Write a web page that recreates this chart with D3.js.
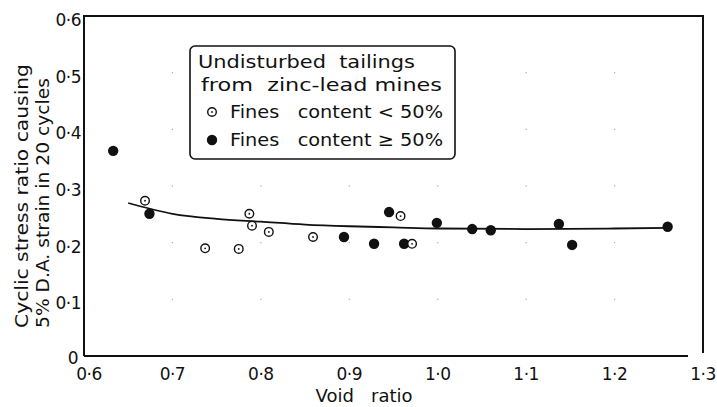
<!DOCTYPE html>
<html>
<head>
<meta charset="utf-8">
<script src="https://cdn.jsdelivr.net/npm/d3@7"></script>
<style>
  body { margin: 0; background: #fff; }
  svg text { font-family: "DejaVu Sans", sans-serif; fill: #111; }
</style>
</head>
<body>
<svg id="plot" width="717" height="407"></svg>
<script>
// void ratio / cyclic stress ratio
const openPts = [
    [0.669, 0.274], [0.737, 0.190], [0.775, 0.189], [0.787, 0.251],
    [0.790, 0.230], [0.809, 0.219], [0.859, 0.210], [0.958, 0.247],
    [0.971, 0.198]
]
const filledPts = [
    [0.633, 0.362], [0.674, 0.251], [0.894, 0.210], [0.928, 0.198],
    [0.945, 0.254], [0.962, 0.198], [0.999, 0.235], [1.039, 0.224],
    [1.060, 0.222], [1.137, 0.233], [1.152, 0.196], [1.260, 0.228]
]
const trend = [
    [0.650, 0.270], [0.700, 0.251], [0.750, 0.242], [0.800, 0.237],
    [0.850, 0.232], [0.900, 0.229], [0.950, 0.227], [1.000, 0.225],
    [1.100, 0.224], [1.200, 0.225], [1.260, 0.226]
]
const xTicks = [0.6, 0.7, 0.8, 0.9, 1.0, 1.1, 1.2, 1.3]
const yTicks = [0, 0.1, 0.2, 0.3, 0.4, 0.5, 0.6]
const legendLines = ['Undisturbed  tailings', 'from  zinc-lead mines']
const legendItems = [
    { open: true, label: 'Fines   content < 50%' },
    { open: false, label: 'Fines   content \u2265 50%' }
]

const plotLeft = 84
    , plotRight = 703
    , plotTop = 16
    , plotBottom = 356
    , svg = d3.select('#plot')
    , x = d3.scaleLinear().domain([0.6, 1.3]).range([plotLeft, plotRight])
    , y = d3.scaleLinear().domain([0, 0.6]).range([plotBottom, plotTop])
    , fmt = v => v === 0 ? '0' : d3.format('.1f')(v).replace('.', '\u00b7')

// frame
svg.append('path')
    .attr('d', `M${plotLeft},${plotBottom}V${plotTop}H${plotRight}V${plotBottom - 3}`)
    .attr('fill', 'none').attr('stroke', '#111').attr('stroke-width', 2)
svg.append('line')
    .attr('x1', plotLeft).attr('x2', plotRight - 15)
    .attr('y1', plotBottom).attr('y2', plotBottom)
    .attr('stroke', '#111').attr('stroke-width', 2)

// faint dots at tick crossings
const crossings = xTicks.slice(1, -1).flatMap(a => yTicks.slice(1, -1).map(b => [a, b]))
svg.selectAll('rect.dot')
    .data(crossings)
    .join('rect')
    .attr('class', 'dot')
    .attr('x', d => x(d[0]) - 0.6).attr('y', d => y(d[1]) - 0.6)
    .attr('width', 1.2).attr('height', 1.2)
    .attr('fill', '#aaa')

// tick labels
svg.selectAll('text.xt')
    .data(xTicks)
    .join('text')
    .attr('class', 'xt')
    .attr('x', d => x(d) + (d === 0.6 ? 5 : 0))
    .attr('y', 380)
    .attr('text-anchor', 'middle')
    .attr('font-size', 17)
    .attr('letter-spacing', -0.5)
    .text(fmt)
svg.selectAll('text.yt')
    .data(yTicks)
    .join('text')
    .attr('class', 'yt')
    .attr('x', d => d === 0 ? 78 : 81)
    .attr('y', d => y(d) + (d === 0 ? 8 : 10))
    .attr('text-anchor', 'end')
    .attr('font-size', 17)
    .attr('letter-spacing', -0.5)
    .text(fmt)

// axis titles
svg.append('text')
    .attr('x', 364).attr('y', 402)
    .attr('text-anchor', 'middle')
    .attr('font-size', 18)
    .attr('xml:space', 'preserve')
    .text('Void   ratio')
const yTitle = svg.append('text')
    .attr('transform', 'translate(0,328) rotate(-90)')
    .attr('font-size', 18)
yTitle.append('tspan').attr('x', 0).attr('y', 28)
    .attr('textLength', 264).attr('lengthAdjust', 'spacingAndGlyphs')
    .text('Cyclic stress ratio causing')
yTitle.append('tspan').attr('x', 0).attr('y', 49)
    .attr('textLength', 250).attr('lengthAdjust', 'spacingAndGlyphs')
    .text('5% D.A. strain in 20 cycles')

// trend curve
svg.append('path')
    .datum(trend)
    .attr('d', d3.line().x(d => x(d[0])).y(d => y(d[1])).curve(d3.curveMonotoneX))
    .attr('fill', 'none').attr('stroke', '#111').attr('stroke-width', 1.8)

// points
const drawOpen = (sel, cx, cy) => {
    sel.append('circle').attr('cx', cx).attr('cy', cy).attr('r', 4.3)
        .attr('fill', '#fff').attr('stroke', '#111').attr('stroke-width', 1.4)
    sel.append('circle').attr('cx', cx).attr('cy', cy).attr('r', 0.9).attr('fill', '#111')
}
filledPts.forEach(d =>
    svg.append('circle').attr('cx', x(d[0])).attr('cy', y(d[1])).attr('r', 5.2).attr('fill', '#111'))
openPts.forEach(d => drawOpen(svg, x(d[0]), y(d[1])))

// legend
const legend = svg.append('g')
legend.append('rect')
    .attr('x', 190).attr('y', 46).attr('width', 265).attr('height', 113)
    .attr('rx', 5).attr('fill', '#fff').attr('stroke', '#111').attr('stroke-width', 1.6)
legend.selectAll('text.title')
    .data(legendLines)
    .join('text')
    .attr('class', 'title')
    .attr('x', (d, i) => i === 0 ? 198 : 201).attr('y', (d, i) => 68 + i * 23)
    .attr('font-size', 18)
    .attr('xml:space', 'preserve')
    .attr('textLength', (d, i) => i === 0 ? 217 : 241).attr('lengthAdjust', 'spacingAndGlyphs')
    .text(d => d)
legendItems.forEach((d, i) => {
    const cy = 112 + i * 28
    if (d.open) drawOpen(legend, 212, cy)
    else legend.append('circle').attr('cx', 212).attr('cy', cy).attr('r', 5.2).attr('fill', '#111')
    legend.append('text')
        .attr('x', 230).attr('y', cy + 6)
        .attr('font-size', 18)
        .attr('xml:space', 'preserve')
        .attr('textLength', 213).attr('lengthAdjust', 'spacingAndGlyphs')
        .text(d.label)
})
</script>
</body>
</html>
